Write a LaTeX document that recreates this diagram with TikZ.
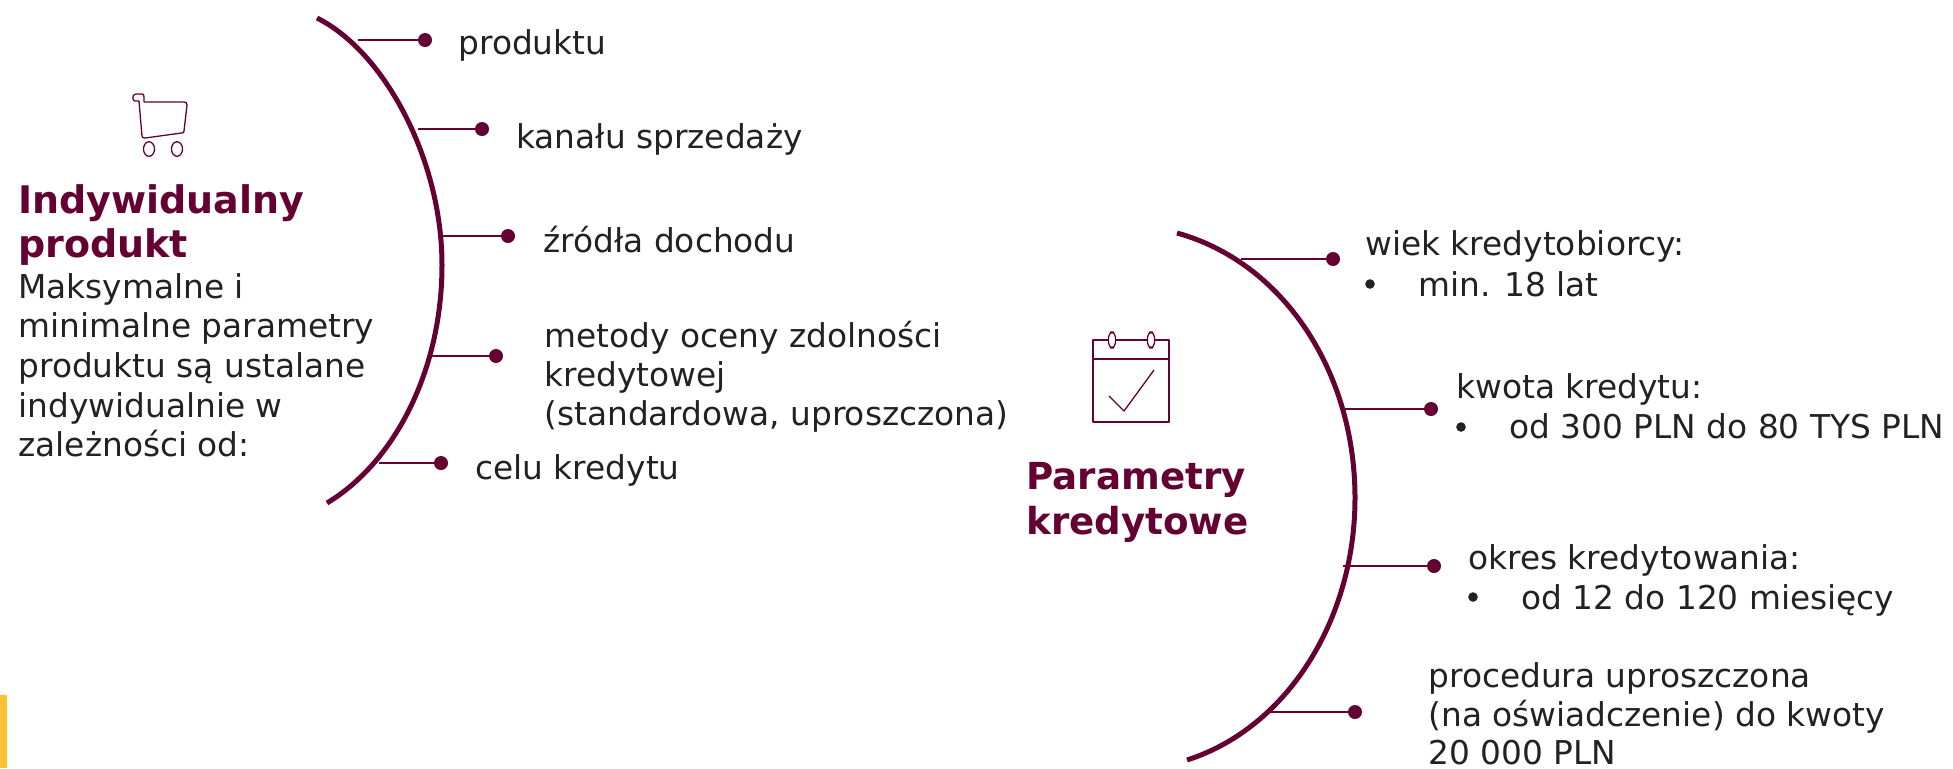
\documentclass[tikz,border=0pt]{standalone}
\usepackage{fontspec}
\setmainfont{DejaVu Sans}
\definecolor{wine}{HTML}{640032}
\definecolor{ink}{HTML}{222222}
\definecolor{amber}{HTML}{FFC233}
\newcommand{\bodysize}{\fontsize{16.4}{20}\selectfont}
\newcommand{\headsize}{\fontsize{19}{22}\selectfont\bfseries}
\newcommand{\headsizeb}{\fontsize{18.6}{22}\selectfont\bfseries}
\tikzset{
  x=0.5pt,y=-0.5pt,
  arcline/.style={draw=wine,line width=2.5pt},
  stem/.style={draw=wine,line width=0.95pt},
  dotmark/.style={circle,fill=wine,inner sep=0pt,minimum size=7pt},
  icon/.style={draw=wine,line width=0.65pt,line join=round},
  body/.style={anchor=base west,inner sep=0pt,text=ink,font=\bodysize,yshift=-0.7pt},
  head/.style={anchor=base west,inner sep=0pt,text=wine,font=\headsize,yshift=-0.4pt},
  headb/.style={anchor=base west,inner sep=0pt,text=wine,font=\headsizeb,yshift=-0.8pt},
  bulletmark/.style={circle,fill=ink,inner sep=0pt,minimum size=4.8pt}
}
\begin{document}
\begin{tikzpicture}
\useasboundingbox (0,0) rectangle (1953,768);
\fill[amber] (0,695) rectangle (7,768);

% left arc
\coordinate (la) at (317,18);
\coordinate (lb) at (442,265);
\coordinate (lc) at (327,503);
\draw[arcline] (la) .. controls (385,52) and (442,160) .. (lb)
               .. controls (442,370) and (395,462) .. (lc);

% left stems
\foreach \n/\sx/\sy/\dx in {a/358/40/425,b/418/129/482,c/441/236/508,d/432/356/496,e/379/463/441}{
  \coordinate (ls\n) at (\sx,\sy);
  \node[dotmark] (ld\n) at (\dx,\sy) {};
  \draw[stem] (ls\n) -- (ld\n);
}

\node[body] (t1) at (458,53) {produktu};
\node[body] (t2) at (516,147) {kanału sprzedaży};
\node[body] (t3) at (543,251) {źródła dochodu};
\node[body] (t4a) at (544,346) {metody oceny zdolności};
\node[body] (t4b) at (544,385) {kredytowej};
\node[body] (t4c) at (544,424) {(standardowa, uproszczona)};
\node[body] (t5) at (475,478) {celu kredytu};

\node[head] (h1a) at (18,213) {Indywidualny};
\node[head] (h1b) at (18,257) {produkt};
\node[body] (p1) at (18,297) {Maksymalne i};
\node[body] (p2) at (18,336) {minimalne parametry};
\node[body] (p3) at (18,376) {produktu są ustalane};
\node[body] (p4) at (18,416) {indywidualnie w};
\node[body] (p5) at (18,455) {zależności od:};

% cart icon
\draw[icon] (136,94) -- (142,94) .. controls (143.5,94) and (144,95) .. (144,97) -- (144,102)
  -- (184,102) .. controls (186,102) and (187,103) .. (187,105) -- (184,131)
  .. controls (183.8,132.5) and (183.5,133) .. (181.5,133) -- (145,138)
  .. controls (143,138) and (142.3,137.5) .. (142,136) -- (139,101) -- (135,101)
  .. controls (132,101) and (132,94) .. (136,94) -- cycle;
\draw[icon] (149,149) ellipse [x radius=5.5,y radius=7.3];
\draw[icon] (177,149) ellipse [x radius=5.5,y radius=7.3];

% right arc
\coordinate (ra) at (1177,233);
\coordinate (rb) at (1355,498);
\coordinate (rc) at (1187,760);
\draw[arcline] (ra) .. controls (1282,262) and (1355,370) .. (rb)
               .. controls (1355,620) and (1287,728) .. (rc);

% right stems
\foreach \n/\sx/\sy/\dx in {a/1241/259/1333,b/1343/409/1431,c/1343/566/1434,d/1269/712/1355}{
  \coordinate (rs\n) at (\sx,\sy);
  \node[dotmark] (rd\n) at (\dx,\sy) {};
  \draw[stem] (rs\n) -- (rd\n);
}

\node[body] (w1) at (1365,254) {wiek kredytobiorcy:};
\node[bulletmark] (wb) at (1370,284) {};
\node[body] (w2) at (1418,295) {min. 18 lat};
\node[body] (k1) at (1456,397) {kwota kredytu:};
\node[bulletmark] (kb) at (1461,427) {};
\node[body] (k2) at (1509,437) {od 300 PLN do 80 TYS PLN};
\node[body] (o1) at (1468,568) {okres kredytowania:};
\node[bulletmark] (ob) at (1473,597) {};
\node[body] (o2) at (1521,608) {od 12 do 120 miesięcy};
\node[body] (u1) at (1428,686) {procedura uproszczona};
\node[body] (u2) at (1428,725) {(na oświadczenie) do kwoty};
\node[body] (u3) at (1428,763) {20 000 PLN};

\node[headb] (h2a) at (1026,488) {Parametry};
\node[headb] (h2b) at (1026,533) {kredytowe};

% calendar icon
\draw[icon] (1093,340) rectangle (1169,422);
\draw[icon] (1093,359) -- (1169,359);
\draw[icon,fill=white,rounded corners=2.5pt] (1108.5,332) rectangle (1115.5,348);
\draw[icon,fill=white,rounded corners=2.5pt] (1147.5,332) rectangle (1154.5,348);
\draw[icon] (1109,396) -- (1124,411) -- (1154,370);
\end{tikzpicture}
\end{document}
